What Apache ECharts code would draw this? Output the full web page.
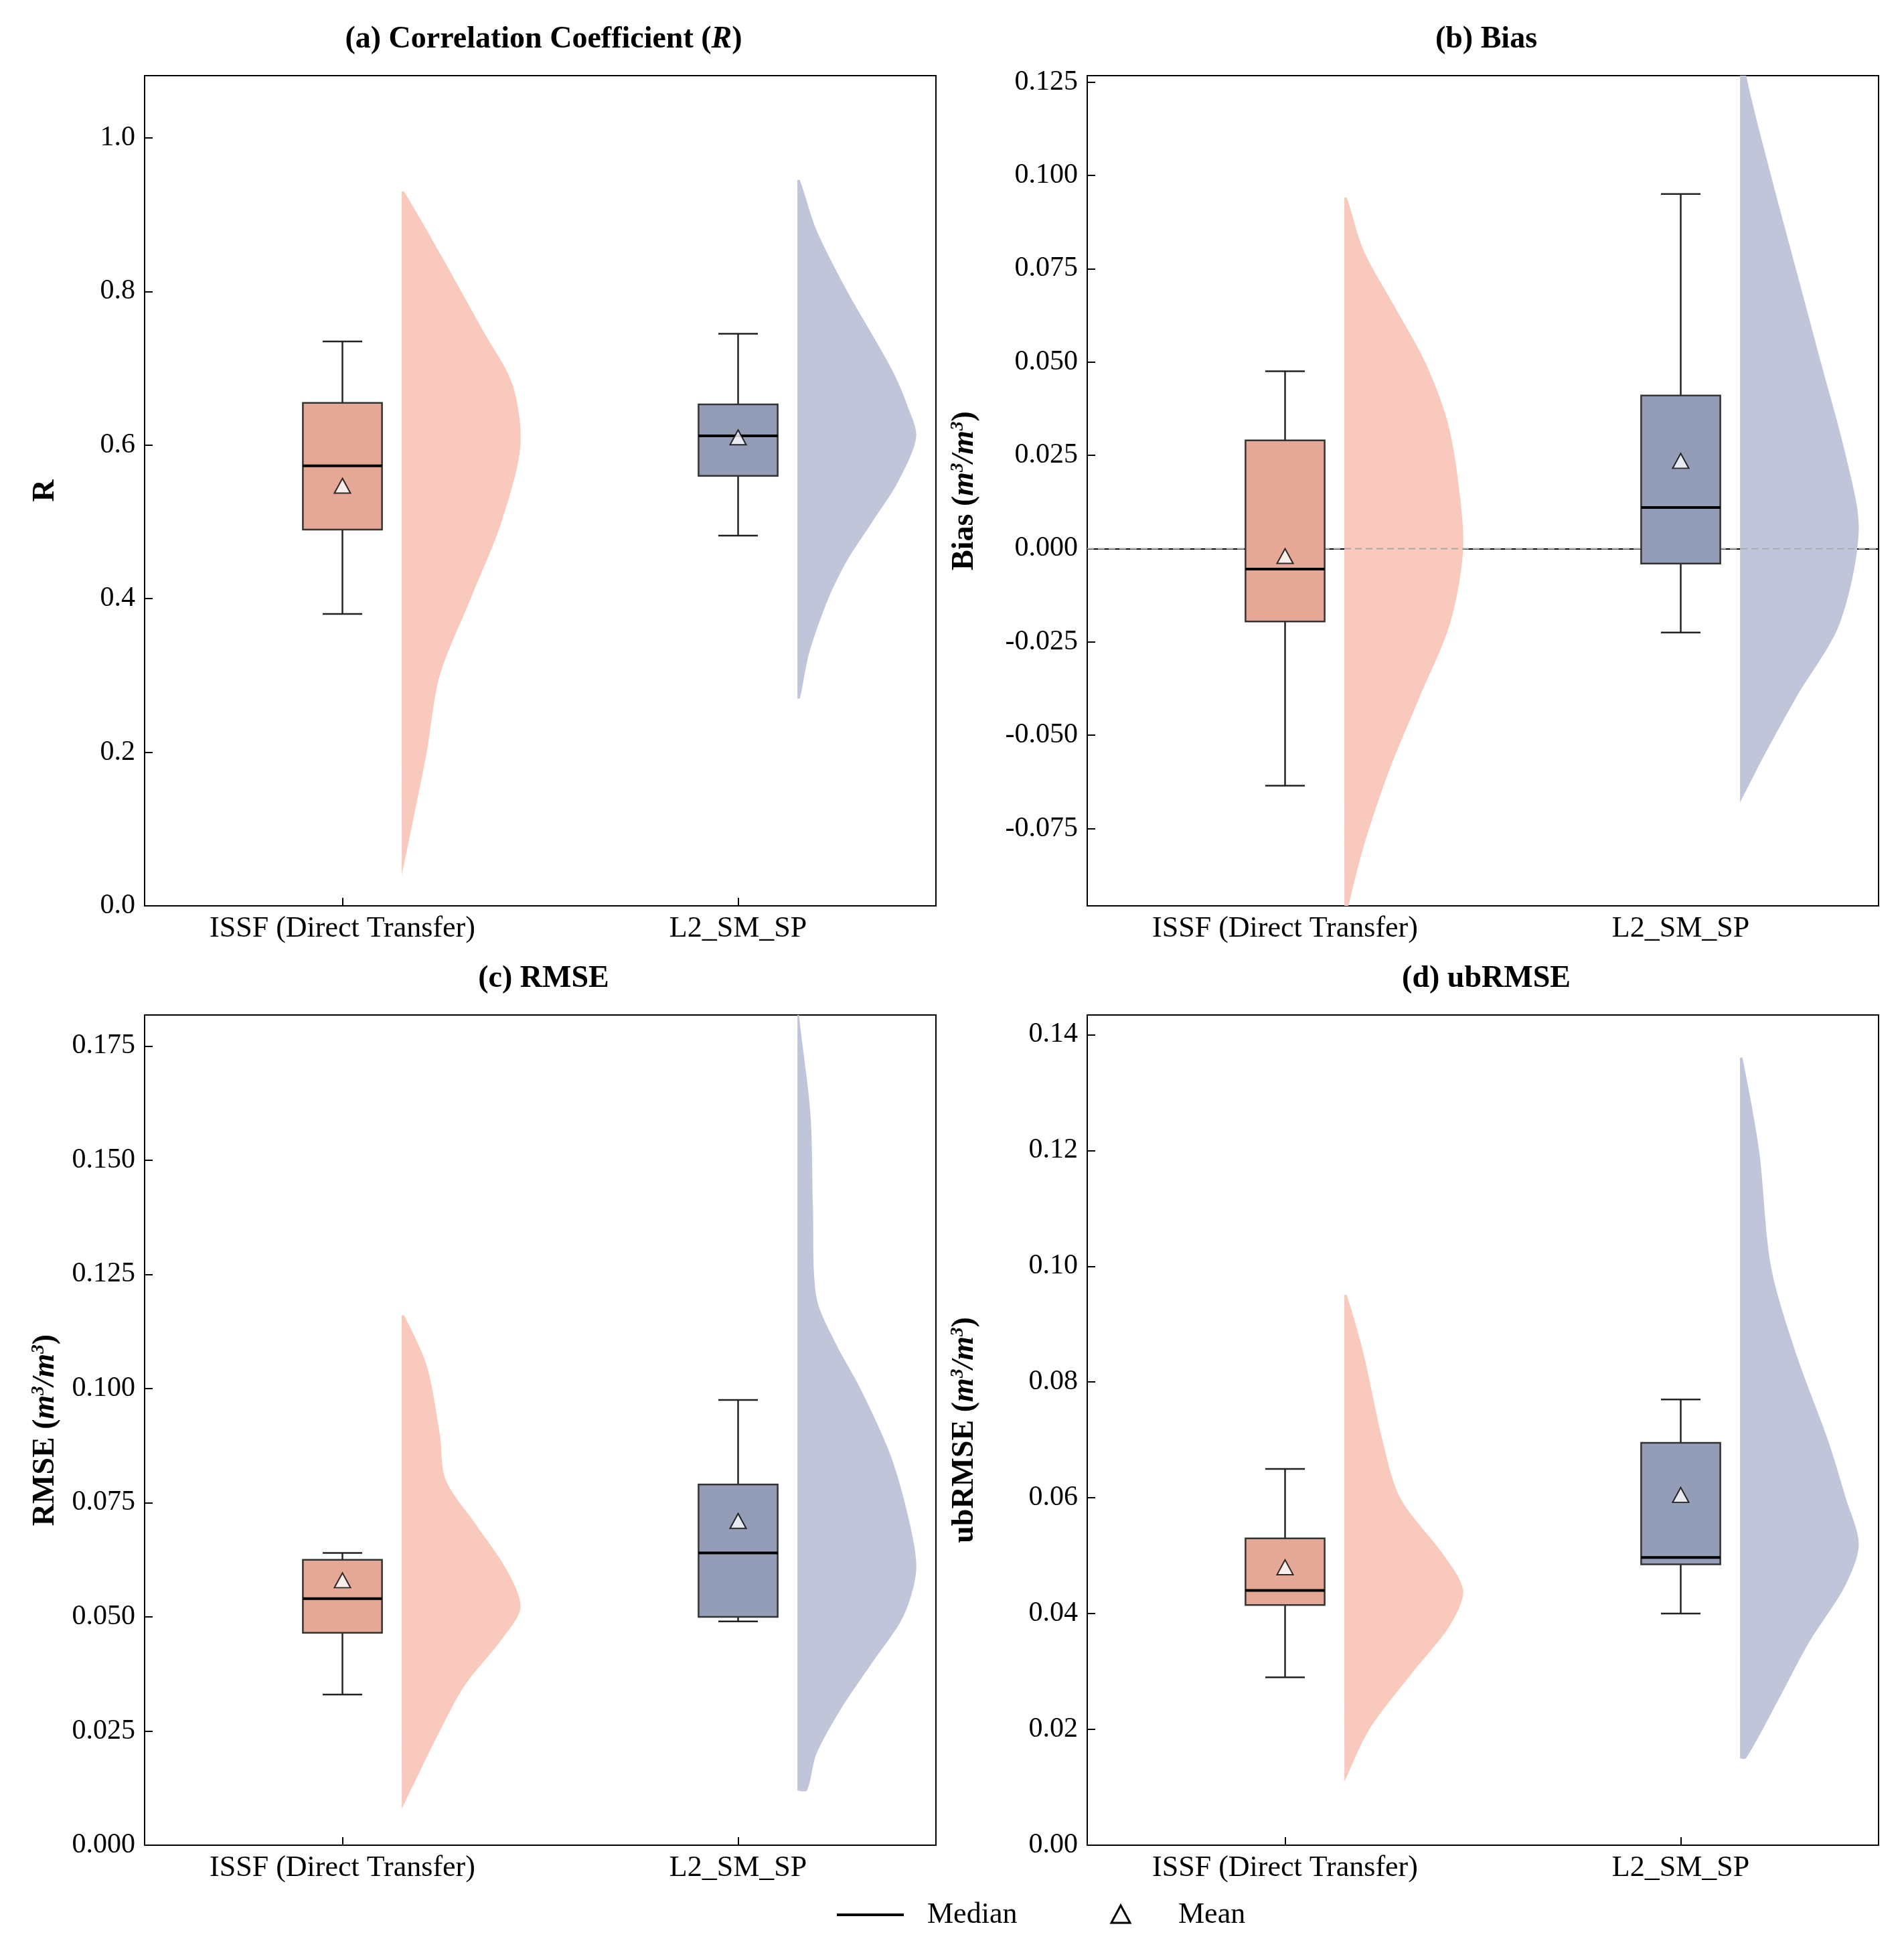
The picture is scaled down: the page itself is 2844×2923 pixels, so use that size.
<!DOCTYPE html>
<html><head><meta charset="utf-8">
<script src="https://cdn.jsdelivr.net/npm/echarts@6/dist/echarts.min.js"></script>
<style>html,body{margin:0;background:#fff}#c{width:2844px;height:2923px}</style>
</head><body><div id="c"></div>
<script>
var groups = ['ISSF (Direct Transfer)', 'L2_SM_SP'];
// box stats: [whiskerLow, q1, median, q3, whiskerHigh, mean]
var boxR     = [[0.380, 0.490, 0.573, 0.655, 0.735, 0.547], [0.482, 0.560, 0.612, 0.653, 0.745, 0.610]];
var boxBias  = [[-0.0635, -0.0195, -0.0055, 0.029, 0.0475, -0.002], [-0.0225, -0.004, 0.011, 0.041, 0.095, 0.0235]];
var boxRMSE  = [[0.033, 0.0465, 0.054, 0.0625, 0.064, 0.058], [0.049, 0.050, 0.064, 0.079, 0.0975, 0.071]];
var boxUb    = [[0.029, 0.0415, 0.044, 0.053, 0.065, 0.048], [0.040, 0.0485, 0.0497, 0.0695, 0.077, 0.0605]];
// tick values per panel
var ticksR    = [0, 0.2, 0.4, 0.6, 0.8, 1.0];
var ticksBias = [-0.075, -0.05, -0.025, 0, 0.025, 0.05, 0.075, 0.1, 0.125];
var ticksRMSE = [0, 0.025, 0.05, 0.075, 0.1, 0.125, 0.15, 0.175];
var ticksUb   = [0, 0.02, 0.04, 0.06, 0.08, 0.1, 0.12, 0.14];
// violin profiles: [value, relative width]
var vioR = [
  [[0.93,0.02],[0.85,0.32],[0.75,0.68],[0.68,0.93],[0.60,1.0],[0.50,0.84],[0.40,0.58],[0.30,0.32],[0.20,0.21],[0.10,0.08],[0.04,0]],
  [[0.945,0.02],[0.88,0.16],[0.80,0.42],[0.70,0.79],[0.65,0.93],[0.61,1.0],[0.55,0.84],[0.50,0.63],[0.45,0.42],[0.40,0.26],[0.33,0.1],[0.27,0.02]]
];
var vioBias = [
  [[0.094,0.02],[0.08,0.16],[0.065,0.42],[0.05,0.68],[0.035,0.86],[0.02,0.95],[0,1.0],[-0.02,0.89],[-0.04,0.63],[-0.06,0.37],[-0.08,0.16],[-0.10,0]],
  [[0.14,0],[0.127,0.05],[0.10,0.26],[0.075,0.47],[0.05,0.68],[0.025,0.89],[0.005,1.0],[-0.02,0.84],[-0.04,0.47],[-0.055,0.21],[-0.068,0]]
];
var vioRMSE = [
  [[0.116,0.02],[0.105,0.21],[0.09,0.32],[0.08,0.37],[0.07,0.63],[0.06,0.89],[0.052,1.0],[0.045,0.84],[0.035,0.53],[0.025,0.32],[0.015,0.13],[0.008,0]],
  [[0.185,0],[0.18,0.02],[0.16,0.11],[0.14,0.13],[0.12,0.16],[0.11,0.32],[0.10,0.53],[0.085,0.79],[0.07,0.95],[0.06,1.0],[0.05,0.89],[0.04,0.63],[0.03,0.37],[0.02,0.16],[0.012,0.08]]
];
var vioUb = [
  [[0.095,0.02],[0.085,0.16],[0.07,0.32],[0.06,0.47],[0.05,0.84],[0.044,1.0],[0.038,0.89],[0.03,0.58],[0.02,0.21],[0.011,0]],
  [[0.136,0.02],[0.12,0.16],[0.10,0.26],[0.085,0.47],[0.07,0.74],[0.06,0.89],[0.052,1.0],[0.045,0.89],[0.035,0.58],[0.025,0.32],[0.015,0.05]]
];

var boxColors = ['#e5a896', '#949db8'];
var vioColors = ['#f8c9bc', '#c0c5d9'];
var centers = [0.25, 0.75];
var vioBase = [0.325, 0.825];
var FONT = 'Liberation Serif';

var panels = [
  {title: '{b|(a) Correlation Coefficient (}{bi|R}{b|)}', name: '{b|R}', box: boxR, vio: vioR, min: 0, max: 1.081, ticks: ticksR, dec: 1},
  {title: '{b|(b) Bias}', name: '{b|Bias (}{bi|m}{sup|3}{bi|/m}{sup|3}{b|)}', box: boxBias, vio: vioBias, min: -0.0957, max: 0.1267, ticks: ticksBias, dec: 3, zero: true},
  {title: '{b|(c) RMSE}', name: '{b|RMSE (}{bi|m}{sup|3}{bi|/m}{sup|3}{b|)}', box: boxRMSE, vio: vioRMSE, min: 0, max: 0.1818, ticks: ticksRMSE, dec: 3},
  {title: '{b|(d) ubRMSE}', name: '{b|ubRMSE (}{bi|m}{sup|3}{bi|/m}{sup|3}{b|)}', box: boxUb, vio: vioUb, min: 0, max: 0.1434, ticks: ticksUb, dec: 2}
];
var gridPos = [[216, 113], [1624, 113], [216, 1516], [1624, 1516]];
var rich = {
  b: {fontFamily: FONT, fontWeight: 'bold', fontSize: 46, color: '#000'},
  bi: {fontFamily: FONT, fontWeight: 'bold', fontStyle: 'italic', fontSize: 46, color: '#000'},
  sup: {fontFamily: FONT, fontWeight: 'bold', fontStyle: 'italic', fontSize: 27, color: '#000', verticalAlign: 'top', padding: [0, 0, 18, 0]}
};

var option = {animation: false, backgroundColor: '#fff', grid: [], xAxis: [], yAxis: [], series: [], title: [], graphic: []};

panels.forEach(function (p, i) {
  var gp = gridPos[i];
  option.grid.push({left: gp[0], top: gp[1], width: 1182, height: 1240, show: true, borderColor: '#000', borderWidth: 2});
  option.title.push({text: p.title, left: gp[0] + 591, top: gp[1] - 82, textAlign: 'center', textStyle: {rich: rich}});
  option.xAxis.push({
    type: 'value', gridIndex: i, min: 0, max: 1, splitLine: {show: false},
    axisLine: {lineStyle: {color: '#000', width: 2}},
    axisTick: {inside: true, length: 12, customValues: centers, lineStyle: {color: '#000', width: 2}},
    axisLabel: {customValues: centers, color: '#000', fontFamily: FONT, fontSize: 44, margin: 12,
      formatter: function (v) { return v < 0.5 ? groups[0] : groups[1]; }}
  });
  option.yAxis.push({
    type: 'value', gridIndex: i, min: p.min, max: p.max, splitLine: {show: false},
    name: p.name, nameLocation: 'middle', nameRotate: 90, nameGap: i % 2 ? 160 : 125,
    nameTextStyle: {rich: rich},
    axisLine: {lineStyle: {color: '#000', width: 2}},
    axisTick: {inside: true, length: 12, customValues: p.ticks, lineStyle: {color: '#000', width: 2}},
    axisLabel: {customValues: p.ticks, color: '#000', fontFamily: FONT, fontSize: 42, margin: 14,
      formatter: function (v) { return v.toFixed(p.dec); }}
  });

  [0, 1].forEach(function (g) {
    var prof = p.vio[g];
    option.series.push({
      type: 'custom', xAxisIndex: i, yAxisIndex: i, clip: true, z: 1,
      data: prof,
      renderItem: function (params, api) {
        if (params.dataIndex !== 0) return;
        var pts = [api.coord([vioBase[g], prof[0][0]])];
        prof.forEach(function (d) { pts.push(api.coord([vioBase[g] + d[1] * 0.15, d[0]])); });
        var bottom = api.coord([vioBase[g], prof[prof.length - 1][0]]);
        return {
          type: 'group', children: [
            {type: 'polyline', shape: {points: pts.concat([bottom]), smooth: 0.3}, style: {fill: vioColors[g], stroke: null}},
            {type: 'polygon', shape: {points: [pts[0], pts[1], bottom]}, style: {fill: vioColors[g]}}
          ]
        };
      }
    });
    option.series.push({
      type: 'custom', xAxisIndex: i, yAxisIndex: i, z: 3,
      data: [[centers[g]].concat(p.box[g])],
      renderItem: function (params, api) {
        var x = api.value(0);
        var lo = api.coord([x, api.value(1)]), q1 = api.coord([x, api.value(2)]),
            md = api.coord([x, api.value(3)]), q3 = api.coord([x, api.value(4)]),
            hi = api.coord([x, api.value(5)]);
        var hw = api.size([0.05, 0])[0], cw = hw / 2;
        var ls = {stroke: '#222', lineWidth: 2.5};
        return {type: 'group', children: [
          {type: 'line', shape: {x1: lo[0], y1: lo[1], x2: q1[0], y2: q1[1]}, style: ls},
          {type: 'line', shape: {x1: q3[0], y1: q3[1], x2: hi[0], y2: hi[1]}, style: ls},
          {type: 'line', shape: {x1: lo[0] - cw, y1: lo[1], x2: lo[0] + cw, y2: lo[1]}, style: ls},
          {type: 'line', shape: {x1: hi[0] - cw, y1: hi[1], x2: hi[0] + cw, y2: hi[1]}, style: ls},
          {type: 'rect', shape: {x: q3[0] - hw, y: q3[1], width: 2 * hw, height: q1[1] - q3[1]},
            style: {fill: boxColors[g], stroke: '#333', lineWidth: 2.5}},
          {type: 'line', shape: {x1: md[0] - hw, y1: md[1], x2: md[0] + hw, y2: md[1]}, style: {stroke: '#000', lineWidth: 4}}
        ]};
      }
    });
    option.series.push({
      type: 'scatter', xAxisIndex: i, yAxisIndex: i, z: 5, symbol: 'triangle', symbolSize: [24, 22],
      itemStyle: {color: '#fff', borderColor: '#000', borderWidth: 2},
      data: [[centers[g], p.box[g][5]]]
    });
  });
  if (p.zero) {
    option.series.push({
      type: 'line', xAxisIndex: i, yAxisIndex: i, symbol: 'none', z: 2,
      data: [[0, 0], [1, 0]], lineStyle: {color: '#aaa', width: 2, type: [10, 6]}
    });
  }
});

// legend
option.graphic = [
  {type: 'line', shape: {x1: 1250, y1: 2860, x2: 1350, y2: 2860}, style: {stroke: '#000', lineWidth: 4}},
  {type: 'text', left: 1385, top: 2838, style: {text: 'Median', fontFamily: FONT, fontSize: 44, fill: '#000'}},
  {type: 'polygon', shape: {points: [[1674, 2846], [1660, 2872], [1688, 2872]]}, style: {fill: '#fff', stroke: '#000', lineWidth: 3}},
  {type: 'text', left: 1760, top: 2838, style: {text: 'Mean', fontFamily: FONT, fontSize: 44, fill: '#000'}}
];

var chart = echarts.init(document.getElementById('c'));
chart.setOption(option);
</script>
</body></html>
